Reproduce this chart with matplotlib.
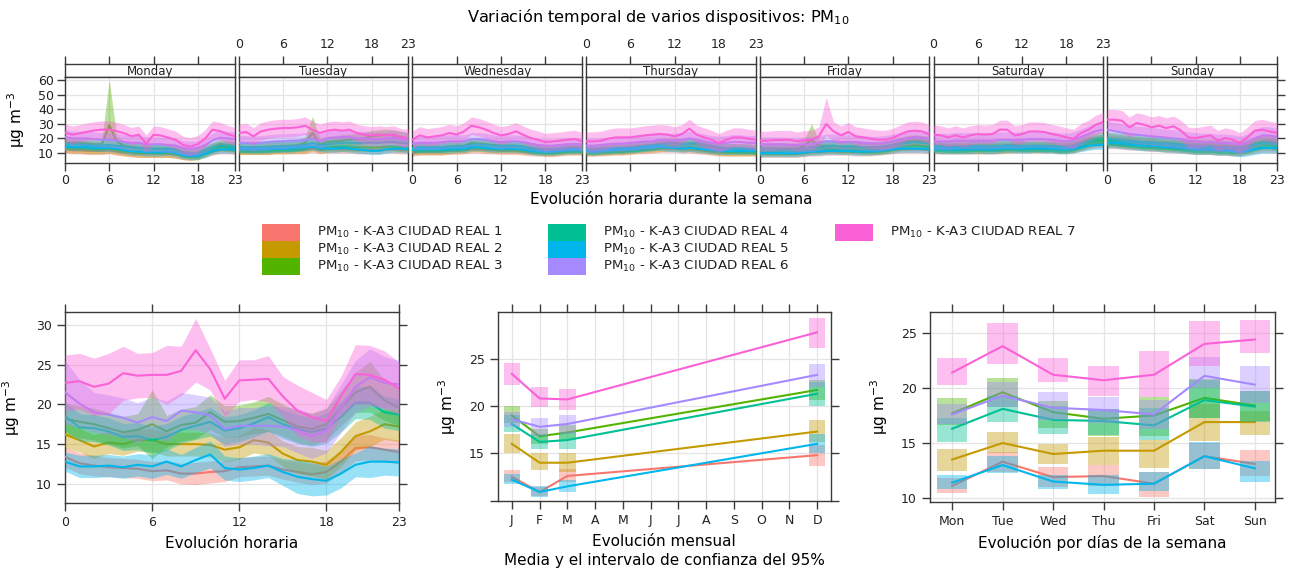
import numpy as np
import matplotlib
matplotlib.use("Agg")
import matplotlib.pyplot as plt
from matplotlib.patches import Rectangle

plt.rcParams['font.family'] = ['DejaVu Sans']

# ---------------- data ----------------
series_labels = ["PM$_{10}$ - K-A3 CIUDAD REAL %d" % i for i in range(1, 8)]
colors = ["#F8766D", "#C49A00", "#53B400", "#00C094", "#00B6EB", "#A58AFF", "#FB61D7"]
day_names = ["Monday", "Tuesday", "Wednesday", "Thursday", "Friday", "Saturday", "Sunday"]
hour_ticks = [0, 6, 12, 18, 23]
month_labels = ["J", "F", "M", "A", "M", "J", "J", "A", "S", "O", "N", "D"]
months_present = [1, 2, 3, 12]
weekday_labels = ["Mon", "Tue", "Wed", "Thu", "Fri", "Sat", "Sun"]

# weekly hourly means (7 days x 24 h) per device
week_1 = [
    [12.5,12,12,11.5,11.5,11.5,12,11,10.5,10,9.5,9.5,9.5,9.5,9.5,9,8,7.5,8,9.5,11,12,12,11.5],
    [11.5,11.5,11.5,11.5,11.5,12,12,12,12,12,13,12,12.5,12.5,12.5,12.5,12,12,12,12,12.5,12.5,12,12],
    [10.5,11,11,11,11,11.5,11.5,12,12.5,12.5,12,12,11.5,11.5,11.5,11,10.5,10.5,10,10,10.5,11,11,11],
    [10.5,10.5,10.5,11,11,11,11.5,12,12,12.5,13,13,13,12.5,12.5,12,11.5,11,10.5,10.5,10.5,10.5,10.5,10.5],
    [9.5,9.5,9.5,9.5,9.5,9.5,10,10.5,10.5,11,11,11,11,10.5,10.5,10.5,11,11.5,12,12.5,12.5,12.5,12.5,12],
    [12,12,12,12,12,12,12,12,12,12,12.5,12.5,12.5,12.5,12.5,12.5,12.5,12,12,12.5,14,15,16,16.5],
    [16,16,15.5,15,15,14.5,14,14,13.5,13,13,12.5,12,12,12,11.5,11.5,11,11,12,13,13.5,13.5,13],
]
week_2 = [
    [13.5,13,13,12.5,12.5,12.5,13,12,11,10.5,10,10,10,10,10,9.5,8.5,8,8.5,10.5,13,14.5,14,13.5],
    [12,12,12,12,12,12.5,12.5,12.5,13,13,14.5,13,13.5,14,14,14,14,14,14,14,14.5,14.5,14,13.5],
    [11.5,12,12,12,12,12.5,13,13,14,14,13.5,13,13,13,13,12.5,12,11.5,11,11,11.5,12,12,12],
    [11,11,11.5,11.5,12,12,12.5,13,13.5,13.5,14,14.5,14.5,14,14,13.5,13,12,11.5,11,11,11,11,11],
    [11,11,11,11,11,11,11.5,12,12.5,13,13,12.5,12.5,12.5,12,12,12,12.5,13.5,14.5,15,15.5,15,14.5],
    [13.5,13,13,13,13,13,13,13,13,13.5,13.5,14,14,14,14,14,14,13.5,13.5,14,15.5,17,18,18.5],
    [18,18,17.5,17,16.5,16,16,15.5,15,15,14.5,14,13.5,13.5,13.5,13,13,12.5,12.5,13.5,15,16,16,15.5],
]
week_3 = [
    [17,17,17,16.5,16,16,29,18,15,14,13.5,13.5,13,13,13,12.5,10.5,10,10,12,14,16,15.5,15],
    [14,14,14,14,14.5,14.5,15,15,15.5,17,24,16,17.5,18,18.5,19,19.5,20,21.5,22,22.5,22,21,20],
    [13.5,14,14,14,14,14.5,15,15,17,16.5,16,15.5,15,15,15,14.5,13.5,13,12.5,12.5,13,13.5,14,13.5],
    [12.5,12.5,13,13,13.5,13.5,14,14.5,15,15.5,16.5,17,17,16.5,16.5,16,15,14,13.5,13,13,13,13,12.5],
    [13,13,13,13,13,13,15,19,15,15,15,14.5,14.5,14.5,14,14,14,14.5,15.5,17,18,18.5,18,17.5],
    [15,15,14.5,14.5,14.5,15,15,15,15,15,15.5,15.5,15,15,15,15,15,14.5,14.5,15.5,17,19,20,20.5],
    [20,19.5,19,18.5,18,17.5,17.5,17,17,16.5,16,15.5,15,15,15,14.5,14.5,14,14,15,16.5,17.5,18,17.5],
]
week_4 = [
    [16,16,16,15.5,15,15,15.5,15,14.5,14,13.5,13,13,13,13,12.5,10.5,10,10,12,14,15,15,14.5],
    [14,14,14,14,14,14.5,14.5,14.5,15,15.5,17,15.5,16,16.5,17,17,17,17,17,17,17.5,17.5,17,16.5],
    [13.5,14,14,14,14,14.5,14.5,14.5,16,16,15.5,15,15,15,15,14.5,13.5,13,12.5,12.5,13,13.5,13.5,13.5],
    [12.5,12.5,13,13,13.5,13.5,14,14,15,15,16,16.5,16.5,16,16.5,17,16,15,14,13.5,13.5,13,13,12.5],
    [13,13,13,12.5,12.5,12.5,13,14,14,14.5,15,14.5,14.5,14.5,14,14,14,14.5,15.5,16.5,17,17.5,17,16.5],
    [14.5,14.5,14,14,14,14.5,14.5,14.5,14.5,14.5,15,15,14.5,14.5,14.5,14.5,14.5,14,14,15,16.5,18,19,19.5],
    [19.5,19,18.5,18,17.5,17,17,16.5,16.5,16,15.5,15,14.5,14.5,14.5,14,14,13.5,13.5,14.5,16,17,17,16.5],
]
week_5 = [
    [14.5,14,14,14,13.5,13.5,13.5,13,12,11,11,10.5,10.5,10.5,11,10,8.5,8,8,9.5,11.5,12.5,12.5,12.5],
    [13,12.5,12.5,12.5,12.5,13,13,13,13.5,14,14.5,13.5,13,13,13.5,13,12.5,12,11.5,11.5,12.5,13,13,12.5],
    [12,12.5,12.5,12.5,12.5,12.5,13,13,14,14,13.5,13,13,13,13,12.5,11.5,11,11,11,11.5,12,12,12],
    [11.5,11,11.5,12,12,12.5,12.5,13,13.5,14,14.5,13.5,13.5,13,13.5,13,12.5,12,11.5,11.5,11.5,11.5,11.5,11.5],
    [10,10,10,10,10,10,10.5,11,11,11.5,11.5,11.5,11.5,11,11,11,11.5,12,12.5,13,13,13,13,12.5],
    [13,12.5,12.5,12.5,12.5,12.5,13,12.5,12.5,13,13.5,13,13,13,13.5,13,13,12.5,12.5,13,14,15,15.5,15.5],
    [17,17,16.5,16,15.5,15,15,14.5,14,14,13.5,13,12.5,12.5,12.5,12,12,11.5,11,11.5,12.5,13.5,13.5,13.5],
]
week_6 = [
    [21,20,20,20,19.5,19,19,18.5,17.5,17,17,16,16,16,15.5,15,13.5,13,13.5,15.5,18.5,20.5,20,19.5],
    [17,17,16.5,17,17.5,18,18,18.5,18.5,19,20,18,20,20.5,21,21,20,20,19.5,19.5,20,20.5,19.5,19],
    [16.5,17,17,17,17.5,18,18,18,19.5,19.5,19,18,17.5,18,18,17.5,16.5,15.5,15,15,15.5,16,16,16],
    [15,15,15.5,16,16.5,16.5,17,17.5,18,18,19,18.5,18.5,19,20,19,18,17,16.5,17,17.5,17.5,17,17],
    [16,16,16,16,15.5,15.5,16,16,17,18,18,17.5,17.5,17.5,17,16.5,16.5,17,18,19,20,21,20.5,20],
    [18,18,18,18.5,18.5,18.5,18.5,18.5,18.5,19,19,19,19,19.5,19.5,19.5,19,18.5,18,19,21,23,25,26],
    [26,25,24,23,22.5,22,21.5,21,20.5,20,19.5,18.5,18,17.5,17.5,17,17,16.5,15.5,17,20,22,22,21],
]
week_7 = [
    [24,22.5,23.5,24.5,25.5,26,26,25,23.5,21.5,22.5,16.5,22.5,22,20.5,19,15.5,14.5,16,20,26,25,23,21.5],
    [23.7,24.4,21.4,24.8,26,26.7,27.1,27.1,27.6,28.7,26,23.7,25.3,26,25.3,26,23.7,22.6,22.1,22.6,22.1,22.6,20.7,20.3],
    [19.1,22.1,20.7,21.4,22.1,23.7,22.6,24.8,28.7,27.6,26,23.7,22.1,23,24.8,22.6,20.3,19.1,17.5,18,18.4,19.1,19.6,18],
    [18,18,18.4,19.8,20.7,20.7,20.7,21.4,22.1,22.6,23,22.6,21.4,23,26.7,22.6,20.7,19.1,16.8,19.1,20.7,20.7,19.8,19.1],
    [18.4,18.4,18.9,18.9,19.1,18,18.7,19.1,21.4,29.9,24.8,22.1,24.4,21.4,20.7,19.8,19.1,19.1,20.3,22.6,24.8,25.3,24.8,22.6],
    [22.6,22.1,20.7,22.1,20.7,22.1,23,22.6,23,26,26,22.1,23,24.8,24.8,24.4,23,22.1,20.7,19.8,23.7,26,29.4,31.2],
    [32.8,32.8,32.1,27.6,30.5,29.4,27.6,28.7,27.1,28.3,25.3,20.7,20.3,21.2,22.1,18.4,20.3,19.1,16.8,20.7,25.3,26,24.8,23.7],
]
week_means = [week_1, week_2, week_3, week_4, week_5, week_6, week_7]
# 95% CI half-width per device and day
week_hw = [
    [2.5, 2.5, 2.5, 2.5, 2.5, 2.5, 3],
    [3, 3, 3, 3, 3, 3.5, 4],
    [3.5, 4, 3.5, 3.5, 4, 4, 4.5],
    [3, 3.5, 3, 3, 3.5, 3.5, 4],
    [2.5, 2.5, 2.5, 2.5, 2.5, 3, 3.5],
    [5, 5, 4.5, 5, 5, 5.5, 6],
    [6, 6, 6, 6.5, 6.5, 6.5, 7],
]
# individual CI extremes (device, day, hour): (low, high)
week_ci_peaks = {
    (2, 0, 6): (14, 60),
    (2, 1, 10): (17, 35),
    (2, 4, 7): (14, 30),
    (6, 4, 9): (22, 48),
}

# diurnal profile (24 h)
hour_means = [
    [13.4,12.6,12.3,12.1,12.0,11.9,11.6,11.7,11.3,11.3,11.5,11.6,12.1,12.2,12.3,11.8,11.5,11.2,11.5,12.8,14.5,14.6,14.3,14.0],
    [16.2,15.5,14.7,15.2,15.0,15.5,15.5,15.0,15.0,15.0,14.9,14.3,14.6,15.5,15.2,13.8,13.0,12.8,12.4,14.0,16.0,16.6,17.5,17.2],
    [18.2,17.8,17.5,17.0,16.5,16.8,17.5,16.6,17.4,17.7,19.0,17.8,17.9,18.3,18.8,18.0,17.2,16.9,17.5,19.5,21.5,22.2,20.5,19.6],
    [18.5,17.1,17.0,16.6,15.9,16.0,15.5,15.9,16.8,17.3,17.8,16.7,17.0,17.6,18.4,17.5,16.9,16.5,17.0,18.4,20.2,20.2,19.0,18.7],
    [12.8,12.2,12.2,12.3,12.1,12.4,12.2,12.8,12.2,13.0,13.7,12.0,11.8,12.0,12.3,11.5,10.9,10.6,10.4,11.3,12.4,12.8,12.8,12.7],
    [21.5,20.1,19.0,18.7,18.3,17.7,18.4,17.9,19.2,19.0,18.6,16.9,17.3,17.3,17.3,17.2,16.7,16.0,16.7,19.5,22.2,23.4,22.7,22.5],
    [22.7,22.9,22.2,22.6,23.9,23.6,23.7,23.7,24.2,26.8,24.4,20.7,23.0,23.1,23.2,21.0,19.2,18.4,17.9,21.0,23.8,23.7,23.1,22.0],
]
hour_hw = [
    [1.3,1.3,1.3,1.2,1.2,1.2,1.2,1.2,1.3,1.4,1.4,1.3,1.2,1.2,1.2,1.2,1.3,1.3,1.4,1.4,1.6,1.6,1.5,1.5],
    [1.6,1.5,1.5,1.4,1.4,1.4,1.4,1.5,1.5,1.5,1.5,1.5,1.5,1.6,1.6,1.6,1.7,1.8,1.8,1.8,1.8,1.9,1.9,1.9],
    [2.0,2.0,2.0,2.0,2.0,2.0,4.3,2.0,2.0,2.0,2.2,2.0,2.0,2.0,2.2,2.0,2.0,2.0,2.0,2.2,2.5,3.2,2.5,2.3],
    [1.8,1.7,1.7,1.7,1.7,1.7,1.7,1.7,1.7,1.7,1.8,1.7,1.7,1.7,1.8,1.8,1.8,1.8,1.9,1.9,2.0,2.1,2.0,2.0],
    [1.2,1.4,1.4,1.4,1.4,1.4,1.5,1.6,1.5,1.6,1.7,1.5,1.5,1.5,1.5,1.7,2.1,2.1,1.8,1.8,1.5,2.0,1.7,1.7],
    [4.0,3.0,2.5,2.5,2.5,2.5,2.5,2.5,2.3,2.2,2.3,2.2,2.3,2.3,2.5,2.5,2.8,2.8,2.8,3.0,3.3,3.6,3.3,3.0],
    [3.5,3.5,3.6,3.8,3.4,2.8,2.8,3.7,3.1,4.0,2.6,2.3,2.6,2.5,2.9,2.5,3.2,3.1,2.7,2.5,3.7,3.7,3.6,3.3],
]

# monthly (J, F, M, D)
month_mean = [
    [12.5, 10.9, 12.6, 14.8], [16.0, 14.0, 14.0, 17.3], [19.0, 16.8, 17.2, 21.7],
    [18.1, 16.2, 16.4, 21.3], [12.2, 10.9, 11.5, 16.0], [18.6, 17.8, 18.1, 23.3],
    [23.4, 20.8, 20.7, 27.8]]
month_lo = [
    [12.0, 10.5, 12.0, 13.7], [15.0, 13.2, 13.0, 16.2], [18.2, 16.0, 16.4, 20.6],
    [17.3, 15.5, 15.5, 20.0], [11.7, 10.4, 10.9, 15.0], [17.8, 16.8, 17.0, 22.0],
    [22.2, 19.9, 19.6, 26.1]]
month_hi = [
    [13.2, 11.4, 13.3, 15.9], [17.0, 15.0, 15.0, 18.5], [20.0, 17.6, 18.0, 22.8],
    [19.0, 17.0, 17.3, 22.5], [12.8, 11.5, 12.2, 17.0], [19.4, 18.7, 19.1, 24.5],
    [24.6, 22.0, 21.8, 29.3]]

# weekday (Mon..Sun)
wday_mean = [
    [11.1, 13.3, 11.9, 12.0, 11.3, 13.8, 13.1], [13.5, 15.0, 14.0, 14.3, 14.3, 16.9, 16.9],
    [17.7, 19.6, 17.8, 17.2, 17.5, 19.1, 18.4], [16.3, 18.1, 17.1, 17.0, 16.6, 18.9, 18.3],
    [11.4, 13.0, 11.5, 11.2, 11.3, 13.8, 12.7], [17.6, 19.3, 18.2, 18.0, 17.6, 21.1, 20.3],
    [21.4, 23.8, 21.2, 20.7, 21.2, 24.0, 24.4]]
wday_lo = [
    [10.5, 12.4, 11.0, 11.1, 10.1, 12.6, 12.0], [12.5, 14.1, 13.1, 13.0, 12.7, 15.2, 15.7],
    [16.6, 18.3, 16.4, 15.6, 15.6, 17.3, 17.0], [15.1, 16.9, 15.8, 15.7, 15.3, 17.3, 16.9],
    [10.8, 12.3, 10.8, 10.4, 10.6, 12.6, 11.5], [16.7, 18.3, 17.1, 16.8, 16.3, 20.0, 18.6],
    [20.3, 22.2, 20.5, 19.3, 19.2, 22.0, 23.2]]
wday_hi = [
    [11.8, 14.2, 12.8, 13.0, 12.4, 15.0, 14.4], [14.5, 16.0, 14.9, 15.5, 15.3, 18.5, 17.9],
    [19.1, 20.9, 18.8, 18.1, 19.2, 20.8, 19.7], [17.3, 19.3, 18.4, 18.1, 18.2, 20.7, 19.7],
    [12.1, 13.8, 12.1, 12.1, 12.4, 15.1, 13.4], [18.5, 20.5, 19.6, 19.2, 18.9, 22.8, 22.0],
    [22.7, 25.9, 22.7, 22.0, 23.4, 26.1, 26.2]]

# ---------------- figure ----------------
W, H = 1291, 569
fig = plt.figure(figsize=(W / 100, H / 100), dpi=100)
FRAME = "#3a3a3a"
GRID = "#e4e4e4"
ALPHA = 0.4
LW = 1.5
hours = np.arange(24)


def add_ax(x0, y0, x1, y1):
    return fig.add_axes([x0 / W, 1 - y1 / H, (x1 - x0) / W, (y1 - y0) / H])


def style(ax):
    for sp in ax.spines.values():
        sp.set_color(FRAME)
        sp.set_linewidth(1.0)
    ax.tick_params(colors=FRAME, labelcolor="#222222", labelsize=9, length=6,
                   width=1.0, direction="out")


fig.text(658 / W, 1 - 17 / H, "Variación temporal de varios dispositivos: PM$_{10}$",
         ha="center", va="center", fontsize=11.6)

# ---- weekly panel ----
left0, pw, gap = 65, 169.7, 4.0
for d in range(7):
    x0 = left0 + d * (pw + gap)
    x1 = x0 + pw
    sax = add_ax(x0, 64, x1, 77)
    style(sax)
    sax.set_xlim(0, 23)
    sax.set_ylim(0, 1)
    sax.set_yticks([])
    sax.set_xticks(hour_ticks)
    sax.tick_params(axis="x", top=True, bottom=False, labeltop=(d % 2 == 1),
                    labelbottom=False, pad=3)
    sax.text(11.5, 0.45, day_names[d], ha="center", va="center", fontsize=8.5,
             color="#222222")

    ax = add_ax(x0, 77, x1, 163)
    style(ax)
    ax.set_xlim(0, 23)
    ax.set_ylim(3.2, 62)
    ax.set_xticks(hour_ticks)
    ax.set_yticks([10, 20, 30, 40, 50, 60])
    ax.grid(True, color=GRID, lw=0.9)
    ax.set_axisbelow(True)
    ax.tick_params(axis="x", labelbottom=(d % 2 == 0), pad=2)
    if d == 0:
        ax.tick_params(axis="y", left=True, right=False, labelleft=True, pad=2)
    elif d == 6:
        ax.tick_params(axis="y", left=False, right=True, labelleft=False,
                       labelright=False)
    else:
        ax.tick_params(axis="y", left=False, right=False, labelleft=False)
    for s in range(7):
        m = np.array(week_means[s][d], dtype=float)
        lo = m - week_hw[s][d]
        hi = m + week_hw[s][d]
        for (ss, dd, hh), (l, h) in week_ci_peaks.items():
            if ss == s and dd == d:
                lo[hh], hi[hh] = l, h
        ax.fill_between(hours, lo, hi, color=colors[s], alpha=ALPHA, lw=0,
                        zorder=2 + 2 * s)
        ax.plot(hours, m, color=colors[s], lw=LW, zorder=3 + 2 * s)
    if d == 0:
        ax.set_ylabel("µg m$^{-3}$", fontsize=11, labelpad=8)

fig.text(671 / W, 1 - 200 / H, "Evolución horaria durante la semana",
         ha="center", va="center", fontsize=11)

# ---- legend ----
lax = fig.add_axes([0, 0, 1, 1])
lax.set_xlim(0, W)
lax.set_ylim(H, 0)
lax.axis("off")
col_x = [262, 548, 835]
row_y = [224, 241, 258]
for i in range(7):
    c, r = i // 3, i % 3
    lax.add_patch(Rectangle((col_x[c], row_y[r]), 38, 17, color=colors[i], lw=0))
    lax.text(col_x[c] + 55, row_y[r] + 8.5, series_labels[i], ha="left",
             va="center", fontsize=9.6, color="#222222")

# ---- hourly ----
ax = add_ax(65, 312, 399, 503)
style(ax)
ax.tick_params(top=True, right=True)
ax.set_xlim(0, 23)
ax.set_ylim(7.6, 31.6)
ax.set_xticks(hour_ticks)
ax.set_yticks([10, 15, 20, 25, 30])
ax.grid(True, color=GRID, lw=0.9)
ax.set_axisbelow(True)
for s in range(7):
    m = np.array(hour_means[s])
    hw = np.array(hour_hw[s])
    ax.fill_between(hours, m - hw, m + hw, color=colors[s], alpha=ALPHA, lw=0,
                    zorder=2 + 2 * s)
    ax.plot(hours, m, color=colors[s], lw=LW, zorder=3 + 2 * s)
ax.set_ylabel("µg m$^{-3}$", fontsize=11, labelpad=10)
fig.text(232 / W, 1 - 543 / H, "Evolución horaria", ha="center", va="center",
         fontsize=11)

# ---- monthly ----
ax = add_ax(498, 312, 831, 501)
style(ax)
ax.tick_params(top=True, right=True)
ax.set_xlim(0.5, 12.5)
ax.set_ylim(9.95, 29.95)
ax.set_xticks(range(1, 13))
ax.set_xticklabels(month_labels)
ax.set_yticks([10, 15, 20, 25])
ax.set_yticklabels(["", "15", "20", "25"])
ax.grid(True, color=GRID, lw=0.9)
ax.set_axisbelow(True)
for s in range(7):
    lo = np.array(month_lo[s])
    hi = np.array(month_hi[s])
    ax.bar(months_present, hi - lo, bottom=lo, width=0.6, color=colors[s],
           alpha=ALPHA, lw=0, zorder=2 + 2 * s)
    ax.plot(months_present, month_mean[s], color=colors[s], lw=LW, zorder=3 + 2 * s)
ax.set_ylabel("µg m$^{-3}$", fontsize=11, labelpad=8)
fig.text(664 / W, 1 - 541 / H, "Evolución mensual", ha="center", va="center",
         fontsize=11)
fig.text(664 / W, 1 - 560 / H, "Media y el intervalo de confianza del 95%",
         ha="center", va="center", fontsize=11)

# ---- weekday ----
ax = add_ax(930, 312, 1275, 502)
style(ax)
ax.tick_params(top=True, right=True)
ax.set_xlim(0.56, 7.4)
ax.set_ylim(9.64, 26.9)
ax.set_xticks(range(1, 8))
ax.set_xticklabels(weekday_labels)
ax.set_yticks([10, 15, 20, 25])
ax.grid(True, color=GRID, lw=0.9)
ax.set_axisbelow(True)
xd = np.arange(1, 8)
for s in range(7):
    lo = np.array(wday_lo[s])
    hi = np.array(wday_hi[s])
    ax.bar(xd, hi - lo, bottom=lo, width=0.6, color=colors[s], alpha=ALPHA, lw=0,
           zorder=2 + 2 * s)
    ax.plot(xd, wday_mean[s], color=colors[s], lw=LW, zorder=3 + 2 * s)
ax.set_ylabel("µg m$^{-3}$", fontsize=11, labelpad=8)
fig.text(1102 / W, 1 - 543 / H, "Evolución por días de la semana", ha="center",
         va="center", fontsize=11)

fig.savefig("out.png", dpi=100)
